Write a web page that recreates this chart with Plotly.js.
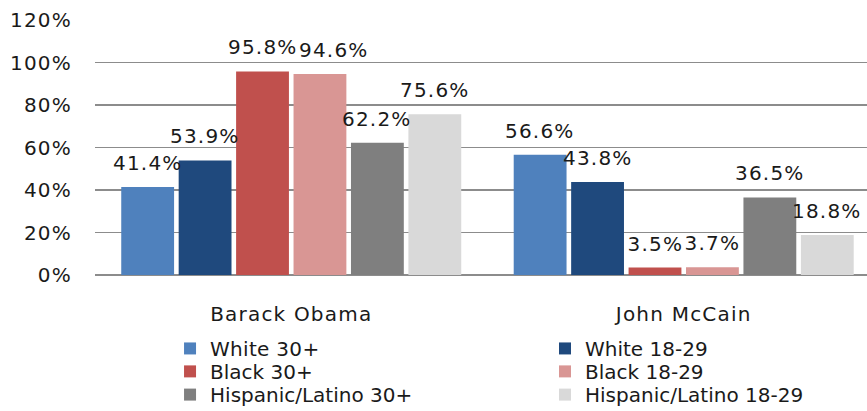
<!DOCTYPE html>
<html>
<head>
<meta charset="utf-8">
<script src="https://cdn.plot.ly/plotly-3.0.1.min.js"></script>
<style>
  html, body { margin: 0; padding: 0; background: #fff; }
  #chart { width: 867px; height: 411px; }
  #chart svg .xtick text,
  #chart svg .ytick text,
  #chart svg .annotation text { letter-spacing: 1.2px; }
  #chart svg .legend text { letter-spacing: 0.3px; }
</style>
</head>
<body>
<div id="chart"></div>
<script>
// ---- data ----
const categories = ["Barack Obama", "John McCain"];
const seriesNames = ["White 30+", "White 18-29", "Black 30+", "Black 18-29", "Hispanic/Latino 30+", "Hispanic/Latino 18-29"];
const white30 = [41.4, 56.6];
const white1829 = [53.9, 43.8];
const black30 = [95.8, 3.5];
const black1829 = [94.6, 3.7];
const hispanic30 = [62.2, 36.5];
const hispanic1829 = [75.6, 18.8];
const yTickVals = [0, 20, 40, 60, 80, 100, 120];

// ---- style ----
const seriesValues = [white30, white1829, black30, black1829, hispanic30, hispanic1829];
const colors = ["#4F81BD", "#1F497D", "#C0504D", "#D99694", "#7F7F7F", "#D9D9D9"];
const legendIds = ["legend", "legend2", "legend3", "legend4", "legend5", "legend6"];
// legend grid: two columns, three rows (paper coordinates)
const legendCols = [0.0972, 0.5829];
const legendRows = [-0.288, -0.378, -0.469];
const FONT = "DejaVu Sans, Verdana, sans-serif";
const TXT = "#1a1a1a";
const bargap = 0.122, bargroupgap = 0.08;
const nSeries = seriesValues.length;
const slot = (1 - bargap) / nSeries;
// small manual nudge (px) to keep one label from overlapping its neighbour
const labelNudge = { "3,0": 14 };

const traces = seriesValues.map((vals, i) => ({
  type: "bar",
  name: seriesNames[i],
  x: categories,
  y: vals,
  marker: { color: colors[i], line: { width: 0 } },
  legend: legendIds[i],
  hoverinfo: "skip"
}));

const annotations = [];
seriesValues.forEach((vals, i) => {
  const off = -(1 - bargap) / 2 + slot * (i + 0.5);
  vals.forEach((v, j) => {
    annotations.push({
      x: j + off, y: v, xref: "x", yref: "y",
      text: v.toFixed(1) + "%",
      showarrow: false,
      yanchor: "bottom",
      xanchor: "center",
      yshift: 10,
      xshift: labelNudge[i + "," + j] || 0,
      font: { family: FONT, size: 20, color: TXT }
    });
  });
});

const layout = {
  width: 867,
  height: 411,
  margin: { l: 95, r: 0, t: 20, b: 136, autoexpand: false },
  paper_bgcolor: "#ffffff",
  plot_bgcolor: "#ffffff",
  font: { family: FONT, size: 20, color: TXT },
  barmode: "group",
  bargap: bargap,
  bargroupgap: bargroupgap,
  showlegend: true,
  xaxis: {
    type: "category",
    range: [-0.5, 1.467],
    showgrid: false,
    showline: false,
    ticks: "",
    ticklabelstandoff: 25,
    tickfont: { family: FONT, size: 20, color: TXT },
    fixedrange: true
  },
  yaxis: {
    range: [0, 120],
    tickvals: yTickVals,
    ticktext: yTickVals.map(v => v + "%"),
    showgrid: true,
    gridcolor: "#8c8c8c",
    gridwidth: 1.6,
    zeroline: true,
    zerolinecolor: "#8c8c8c",
    zerolinewidth: 1.6,
    showline: false,
    ticks: "",
    ticklabelstandoff: 22,
    tickfont: { family: FONT, size: 20, color: TXT },
    fixedrange: true
  },
  annotations: annotations
};

legendIds.forEach((id, i) => {
  layout[id] = {
    orientation: "v",
    x: legendCols[i % 2],
    y: legendRows[Math.floor(i / 2)],
    xanchor: "left",
    yanchor: "middle",
    bgcolor: "rgba(0,0,0,0)",
    borderwidth: 0,
    font: { family: FONT, size: 20, color: TXT }
  };
});

Plotly.newPlot("chart", traces, layout, { displayModeBar: false, staticPlot: true });
</script>
</body>
</html>
